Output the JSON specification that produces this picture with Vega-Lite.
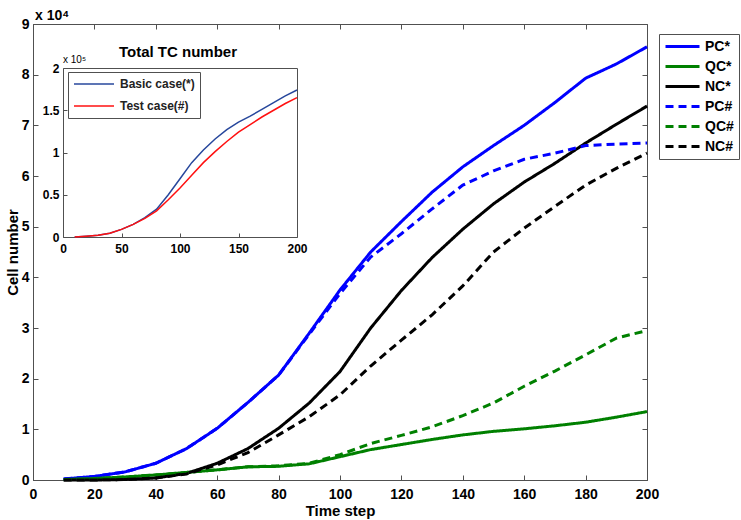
{
  "$schema": "https://vega.github.io/schema/vega-lite/v6.json",
  "width": 614,
  "height": 456,
  "autosize": "none",
  "padding": {"left": 33, "top": 24, "right": 94, "bottom": 40},
  "background": "white",
  "config": {
    "font": "Liberation Sans",
    "view": {"stroke": "#505050", "strokeWidth": 1},
    "axis": {"grid": false}
  },
  "datasets": {
    "main": [
      {"t":10,"v":0.02,"s":"PC*"},{"t":20,"v":0.07,"s":"PC*"},{"t":30,"v":0.16,"s":"PC*"},{"t":40,"v":0.33,"s":"PC*"},{"t":50,"v":0.62,"s":"PC*"},{"t":60,"v":1.02,"s":"PC*"},{"t":70,"v":1.53,"s":"PC*"},{"t":80,"v":2.07,"s":"PC*"},{"t":90,"v":2.9,"s":"PC*"},{"t":100,"v":3.75,"s":"PC*"},{"t":110,"v":4.5,"s":"PC*"},{"t":120,"v":5.1,"s":"PC*"},{"t":130,"v":5.68,"s":"PC*"},{"t":140,"v":6.18,"s":"PC*"},{"t":150,"v":6.6,"s":"PC*"},{"t":160,"v":7.0,"s":"PC*"},{"t":170,"v":7.45,"s":"PC*"},{"t":180,"v":7.93,"s":"PC*"},{"t":190,"v":8.21,"s":"PC*"},{"t":200,"v":8.55,"s":"PC*"},
      {"t":10,"v":0.01,"s":"QC*"},{"t":20,"v":0.03,"s":"QC*"},{"t":30,"v":0.06,"s":"QC*"},{"t":40,"v":0.1,"s":"QC*"},{"t":50,"v":0.15,"s":"QC*"},{"t":60,"v":0.2,"s":"QC*"},{"t":70,"v":0.26,"s":"QC*"},{"t":80,"v":0.27,"s":"QC*"},{"t":90,"v":0.32,"s":"QC*"},{"t":100,"v":0.46,"s":"QC*"},{"t":110,"v":0.6,"s":"QC*"},{"t":120,"v":0.7,"s":"QC*"},{"t":130,"v":0.8,"s":"QC*"},{"t":140,"v":0.89,"s":"QC*"},{"t":150,"v":0.96,"s":"QC*"},{"t":160,"v":1.01,"s":"QC*"},{"t":170,"v":1.07,"s":"QC*"},{"t":180,"v":1.14,"s":"QC*"},{"t":190,"v":1.24,"s":"QC*"},{"t":200,"v":1.35,"s":"QC*"},
      {"t":10,"v":0.0,"s":"NC*"},{"t":20,"v":0.0,"s":"NC*"},{"t":30,"v":0.01,"s":"NC*"},{"t":40,"v":0.04,"s":"NC*"},{"t":50,"v":0.13,"s":"NC*"},{"t":60,"v":0.33,"s":"NC*"},{"t":70,"v":0.62,"s":"NC*"},{"t":80,"v":1.02,"s":"NC*"},{"t":90,"v":1.52,"s":"NC*"},{"t":100,"v":2.14,"s":"NC*"},{"t":110,"v":3.0,"s":"NC*"},{"t":120,"v":3.74,"s":"NC*"},{"t":130,"v":4.39,"s":"NC*"},{"t":140,"v":4.95,"s":"NC*"},{"t":150,"v":5.45,"s":"NC*"},{"t":160,"v":5.88,"s":"NC*"},{"t":170,"v":6.25,"s":"NC*"},{"t":180,"v":6.65,"s":"NC*"},{"t":190,"v":7.02,"s":"NC*"},{"t":200,"v":7.38,"s":"NC*"},
      {"t":10,"v":0.02,"s":"PC#"},{"t":20,"v":0.07,"s":"PC#"},{"t":30,"v":0.16,"s":"PC#"},{"t":40,"v":0.33,"s":"PC#"},{"t":50,"v":0.62,"s":"PC#"},{"t":60,"v":1.02,"s":"PC#"},{"t":70,"v":1.53,"s":"PC#"},{"t":80,"v":2.07,"s":"PC#"},{"t":90,"v":2.88,"s":"PC#"},{"t":100,"v":3.68,"s":"PC#"},{"t":110,"v":4.4,"s":"PC#"},{"t":120,"v":4.86,"s":"PC#"},{"t":130,"v":5.35,"s":"PC#"},{"t":140,"v":5.82,"s":"PC#"},{"t":150,"v":6.1,"s":"PC#"},{"t":160,"v":6.33,"s":"PC#"},{"t":170,"v":6.45,"s":"PC#"},{"t":180,"v":6.6,"s":"PC#"},{"t":190,"v":6.63,"s":"PC#"},{"t":200,"v":6.65,"s":"PC#"},
      {"t":10,"v":0.01,"s":"QC#"},{"t":20,"v":0.03,"s":"QC#"},{"t":30,"v":0.06,"s":"QC#"},{"t":40,"v":0.1,"s":"QC#"},{"t":50,"v":0.15,"s":"QC#"},{"t":60,"v":0.2,"s":"QC#"},{"t":70,"v":0.26,"s":"QC#"},{"t":80,"v":0.28,"s":"QC#"},{"t":90,"v":0.33,"s":"QC#"},{"t":100,"v":0.5,"s":"QC#"},{"t":110,"v":0.72,"s":"QC#"},{"t":120,"v":0.88,"s":"QC#"},{"t":130,"v":1.05,"s":"QC#"},{"t":140,"v":1.27,"s":"QC#"},{"t":150,"v":1.52,"s":"QC#"},{"t":160,"v":1.85,"s":"QC#"},{"t":170,"v":2.15,"s":"QC#"},{"t":180,"v":2.47,"s":"QC#"},{"t":190,"v":2.8,"s":"QC#"},{"t":200,"v":2.95,"s":"QC#"},
      {"t":10,"v":0.0,"s":"NC#"},{"t":20,"v":0.0,"s":"NC#"},{"t":30,"v":0.01,"s":"NC#"},{"t":40,"v":0.04,"s":"NC#"},{"t":50,"v":0.12,"s":"NC#"},{"t":60,"v":0.3,"s":"NC#"},{"t":70,"v":0.54,"s":"NC#"},{"t":80,"v":0.89,"s":"NC#"},{"t":90,"v":1.25,"s":"NC#"},{"t":100,"v":1.68,"s":"NC#"},{"t":110,"v":2.25,"s":"NC#"},{"t":120,"v":2.76,"s":"NC#"},{"t":130,"v":3.26,"s":"NC#"},{"t":140,"v":3.83,"s":"NC#"},{"t":150,"v":4.5,"s":"NC#"},{"t":160,"v":4.97,"s":"NC#"},{"t":170,"v":5.4,"s":"NC#"},{"t":180,"v":5.82,"s":"NC#"},{"t":190,"v":6.15,"s":"NC#"},{"t":200,"v":6.45,"s":"NC#"}
    ],
    "inset": [
      {"t":10,"v":0.0,"c":"Basic case(*)"},{"t":20,"v":0.01,"c":"Basic case(*)"},{"t":30,"v":0.02,"c":"Basic case(*)"},{"t":40,"v":0.045,"c":"Basic case(*)"},{"t":50,"v":0.09,"c":"Basic case(*)"},{"t":60,"v":0.15,"c":"Basic case(*)"},{"t":70,"v":0.23,"c":"Basic case(*)"},{"t":80,"v":0.33,"c":"Basic case(*)"},{"t":90,"v":0.5,"c":"Basic case(*)"},{"t":100,"v":0.69,"c":"Basic case(*)"},{"t":110,"v":0.88,"c":"Basic case(*)"},{"t":120,"v":1.03,"c":"Basic case(*)"},{"t":130,"v":1.16,"c":"Basic case(*)"},{"t":140,"v":1.27,"c":"Basic case(*)"},{"t":150,"v":1.36,"c":"Basic case(*)"},{"t":160,"v":1.43,"c":"Basic case(*)"},{"t":170,"v":1.51,"c":"Basic case(*)"},{"t":180,"v":1.59,"c":"Basic case(*)"},{"t":190,"v":1.67,"c":"Basic case(*)"},{"t":200,"v":1.74,"c":"Basic case(*)"},
      {"t":10,"v":0.0,"c":"Test case(#)"},{"t":20,"v":0.01,"c":"Test case(#)"},{"t":30,"v":0.02,"c":"Test case(#)"},{"t":40,"v":0.045,"c":"Test case(#)"},{"t":50,"v":0.09,"c":"Test case(#)"},{"t":60,"v":0.15,"c":"Test case(#)"},{"t":70,"v":0.22,"c":"Test case(#)"},{"t":80,"v":0.31,"c":"Test case(#)"},{"t":90,"v":0.44,"c":"Test case(#)"},{"t":100,"v":0.58,"c":"Test case(#)"},{"t":110,"v":0.73,"c":"Test case(#)"},{"t":120,"v":0.88,"c":"Test case(#)"},{"t":130,"v":1.01,"c":"Test case(#)"},{"t":140,"v":1.13,"c":"Test case(#)"},{"t":150,"v":1.24,"c":"Test case(#)"},{"t":160,"v":1.33,"c":"Test case(#)"},{"t":170,"v":1.42,"c":"Test case(#)"},{"t":180,"v":1.5,"c":"Test case(#)"},{"t":190,"v":1.58,"c":"Test case(#)"},{"t":200,"v":1.65,"c":"Test case(#)"}
    ],
    "mainNote": [{"t":0,"v":9,"label":"x 10⁴"}],
    "insetTitle": [{"t":100,"v":2,"label":"Total TC number"}],
    "insetNote": [{"t":0,"v":2,"label":"x 10⁵"}]
  },
  "layer": [
    {
      "data": {"name": "main"},
      "mark": {"type": "line", "strokeWidth": 3},
      "encoding": {
        "x": {"field": "t", "type": "quantitative",
          "scale": {"domain": [0, 200], "nice": false},
          "axis": {"values": [0,20,40,60,80,100,120,140,160,180,200], "title": "Time step", "titleFontSize": 15, "titleFontWeight": "bold", "titleColor": "black", "titlePadding": 2,
            "labelFontSize": 14, "labelFontWeight": "bold", "labelColor": "black", "labelPadding": 12, "labelFlush": false, "labelOverlap": false,
            "tickSize": -5, "tickColor": "#505050", "domainColor": "#505050"}},
        "y": {"field": "v", "type": "quantitative",
          "scale": {"domain": [0, 9], "nice": false},
          "axis": {"values": [0,1,2,3,4,5,6,7,8,9], "title": "Cell number", "titleFontSize": 15, "titleFontWeight": "bold", "titleColor": "black", "titlePadding": 1,
            "labelFontSize": 14, "labelFontWeight": "bold", "labelColor": "black", "labelPadding": 9, "labelFlush": false, "labelOverlap": false,
            "tickSize": -5, "tickColor": "#505050", "domainColor": "#505050"}},
        "color": {"field": "s", "type": "nominal",
          "scale": {"domain": ["PC*","QC*","NC*","PC#","QC#","NC#"], "range": ["#0000FF","#008000","#000000","#0000FF","#008000","#000000"]},
          "legend": {"title": null, "orient": "none", "legendX": 626, "legendY": 10, "symbolType": "stroke", "symbolSize": 1156, "symbolStrokeWidth": 3,
            "labelFontSize": 14, "labelFontWeight": "bold", "labelColor": "black", "labelOffset": 4, "strokeColor": "#505050", "fillColor": "white",
            "padding": 5, "clipHeight": 15, "rowPadding": 5}},
        "strokeDash": {"field": "s", "type": "nominal",
          "scale": {"domain": ["PC*","QC*","NC*","PC#","QC#","NC#"], "range": [[1,0],[1,0],[1,0],[8,5],[8,5],[8,5]]},
          "legend": {"title": null, "orient": "none", "legendX": 626, "legendY": 10, "symbolType": "stroke", "symbolSize": 1156, "symbolStrokeWidth": 3,
            "labelFontSize": 14, "labelFontWeight": "bold", "labelColor": "black", "labelOffset": 4, "strokeColor": "#505050", "fillColor": "white",
            "padding": 5, "clipHeight": 15, "rowPadding": 5}}
      }
    },
    {
      "data": {"name": "mainNote"},
      "mark": {"type": "text", "align": "left", "baseline": "alphabetic", "dx": 2, "dy": -4, "fontSize": 14, "fontWeight": "bold", "color": "black"},
      "encoding": {
        "x": {"field": "t", "type": "quantitative", "scale": {"domain": [0, 200], "nice": false},
          "axis": {"orient": "top", "values": [0,20,40,60,80,100,120,140,160,180,200], "labels": false, "title": null, "domain": false, "tickSize": -5, "tickColor": "#505050"}},
        "y": {"field": "v", "type": "quantitative", "scale": {"domain": [0, 9], "nice": false},
          "axis": {"orient": "right", "values": [0,1,2,3,4,5,6,7,8,9], "labels": false, "title": null, "domain": false, "tickSize": -5, "tickColor": "#505050"}},
        "text": {"field": "label"}
      }
    },
    {
      "data": {"name": "inset"},
      "mark": {"type": "line", "strokeWidth": 1.5},
      "encoding": {
        "x": {"field": "t", "type": "quantitative", "scale": {"domain": [0, 200], "range": [30, 264], "nice": false},
          "axis": {"orient": "bottom", "offset": -243, "values": [0,50,100,150,200], "title": null, "labelFontSize": 12, "labelFontWeight": "bold", "labelColor": "black",
            "labelPadding": 10, "labelFlush": false, "labelOverlap": false, "tickSize": -4, "tickColor": "#505050", "domainColor": "#505050"}},
        "y": {"field": "v", "type": "quantitative", "scale": {"domain": [0, 2], "range": [213, 44], "nice": false},
          "axis": {"orient": "left", "offset": -30, "values": [0,0.5,1,1.5,2], "format": "~g", "title": null, "labelFontSize": 12, "labelFontWeight": "bold", "labelColor": "black",
            "labelPadding": 8, "labelFlush": false, "labelOverlap": false, "tickSize": -4, "tickColor": "#505050", "domainColor": "#505050"}},
        "color": {"field": "c", "type": "nominal",
          "scale": {"domain": ["Basic case(*)", "Test case(#)"], "range": ["#27479C", "#FF1010"]},
          "legend": {"title": null, "orient": "none", "legendX": 35, "legendY": 48, "symbolType": "stroke", "symbolSize": 1600, "symbolStrokeWidth": 1.5,
            "labelFontSize": 12, "labelFontWeight": "bold", "labelColor": "#222222", "labelOffset": 5, "strokeColor": "#505050", "fillColor": "white",
            "padding": 5, "clipHeight": 14, "rowPadding": 8}}
      }
    },
    {
      "data": {"name": "insetTitle"},
      "mark": {"type": "text", "align": "center", "baseline": "middle", "dx": -2, "dy": -16, "fontSize": 15, "fontWeight": "bold", "color": "black"},
      "encoding": {
        "x": {"field": "t", "type": "quantitative", "scale": {"domain": [0, 200], "range": [30, 264], "nice": false},
          "axis": {"orient": "top", "offset": -44, "labels": false, "ticks": false, "title": null, "domainColor": "#505050"}},
        "y": {"field": "v", "type": "quantitative", "scale": {"domain": [0, 2], "range": [213, 44], "nice": false},
          "axis": {"orient": "right", "offset": -350, "labels": false, "ticks": false, "title": null, "domainColor": "#505050"}},
        "text": {"field": "label"}
      }
    },
    {
      "data": {"name": "insetNote"},
      "mark": {"type": "text", "align": "left", "baseline": "alphabetic", "dx": 0, "dy": -5, "fontSize": 10, "color": "black"},
      "encoding": {
        "x": {"field": "t", "type": "quantitative", "scale": {"domain": [0, 200], "range": [30, 264], "nice": false}, "axis": null},
        "y": {"field": "v", "type": "quantitative", "scale": {"domain": [0, 2], "range": [213, 44], "nice": false}, "axis": null},
        "text": {"field": "label"}
      }
    }
  ],
  "resolve": {"scale": {"x": "independent", "y": "independent", "color": "independent", "strokeDash": "independent"}}
}
